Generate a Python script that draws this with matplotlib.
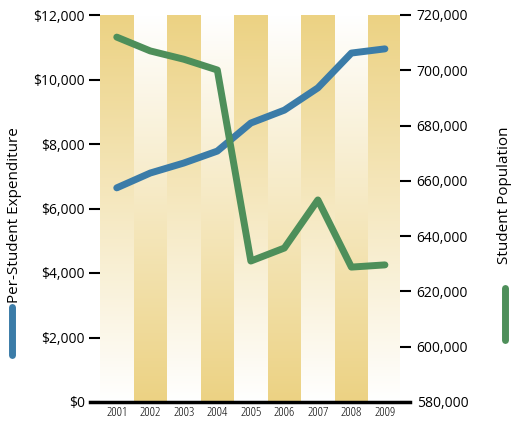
import numpy as np
import matplotlib
matplotlib.use('Agg')
import matplotlib.pyplot as plt
from matplotlib.colors import LinearSegmentedColormap
from matplotlib.lines import Line2D

years = [2001, 2002, 2003, 2004, 2005, 2006, 2007, 2008, 2009]
expenditure = [6640, 7100, 7410, 7780, 8650, 9050, 9740, 10820, 10950]
population = [712000, 707000, 704000, 700100, 631000, 635700, 653100, 628800, 629600]
left_ticks = [0, 2000, 4000, 6000, 8000, 10000, 12000]
right_ticks = [580000, 600000, 620000, 640000, 660000, 680000, 700000, 720000]

gold = '#ecd283'
blue = '#3b7ca8'
green = '#4e8f5a'
plt.rcParams['font.family'] = ['Open Sans', 'DejaVu Sans']

fig = plt.figure(figsize=(5.16, 4.28), dpi=100)
ax = fig.add_axes([100/516, 26/428, 300/516, 387/428])

cmap = LinearSegmentedColormap.from_list('g', ['white', gold])
grad = np.linspace(0, 1, 256).reshape(-1, 1)
for i, yr in enumerate(years):
    # odd years: gold at top, even years: gold at bottom
    img = grad if i % 2 == 0 else grad[::-1]
    ax.imshow(img, cmap=cmap, aspect='auto', origin='lower',
              extent=(yr - 0.5, yr + 0.5, 0, 12000), zorder=0)
ax.set_xlim(2000.5, 2009.45)
ax.set_ylim(0, 12000)

ax2 = ax.twinx()
ax2.set_ylim(580000, 720000)
ax.plot(years, expenditure, color=blue, lw=5, zorder=3, solid_capstyle='round')
ax2.plot(years, population, color=green, lw=5, zorder=3, solid_capstyle='round')

for a in (ax, ax2):
    for s in a.spines.values():
        s.set_visible(False)
# bottom rule slightly wider than the plot area
fig.add_artist(Line2D([90/516, 410/516], [26/428, 26/428], color='black', lw=2.5))

ax.set_xticks(years)
ax.set_xticklabels([str(y) for y in years], fontsize=9.5, fontstretch='condensed')
ax.tick_params(axis='x', length=0, pad=3)
ax.set_yticks(left_ticks)
ax.set_yticklabels(['${:,}'.format(v) for v in left_ticks], fontsize=10)
ax.tick_params(axis='y', length=8, width=1.5, pad=3)
ax2.set_yticks(right_ticks)
ax2.set_yticklabels(['{:,}'.format(v) for v in right_ticks], fontsize=10)
ax2.tick_params(axis='y', length=8, width=1.5, pad=4)

fig.text(15/516, 1 - 215/428, 'Per-Student Expenditure', rotation=90, ha='center', va='center', fontsize=11)
fig.add_artist(Line2D([12/516, 12/516], [1 - 355/428, 1 - 307/428], color=blue, lw=5, solid_capstyle='round'))
fig.text(505/516, 1 - 195/428, 'Student Population', rotation=90, ha='center', va='center', fontsize=11)
fig.add_artist(Line2D([505/516, 505/516], [1 - 340/428, 1 - 288/428], color=green, lw=5, solid_capstyle='round'))

fig.savefig('out.png', dpi=100)
